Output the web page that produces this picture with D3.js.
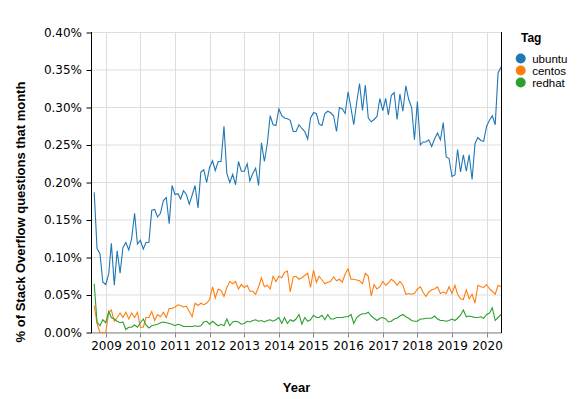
<!DOCTYPE html>
<html>
<head>
<meta charset="utf-8">
<script src="https://cdn.jsdelivr.net/npm/d3@7"></script>
<style>
  html, body { margin: 0; padding: 0; background: #fff; }
  svg { display: block; }
</style>
</head>
<body>
<svg id="chart" width="579" height="399"></svg>
<script>
// ---- data (values in percent of Stack Overflow questions that month) ----
const tags = ["ubuntu", "centos", "redhat"];
const colors = ["#1f77b4", "#ff7f0e", "#2ca02c"];
const startMonth = new Date(Date.UTC(2008, 8, 1)); // Sep 2008
const endMonth = new Date(Date.UTC(2020, 6, 1));   // exclusive -> last is Jun 2020
const yTicks = [0, 0.05, 0.10, 0.15, 0.20, 0.25, 0.30, 0.35, 0.40];

const ubuntu = [
  .187,.112,.105,.067,.064,.078,.119,.063,.109,.079,
  .113,.120,.110,.125,.159,.118,.123,.111,.120,.120,
  .163,.164,.154,.159,.176,.180,.145,.196,.184,.185,
  .178,.189,.184,.171,.183,.196,.166,.214,.217,.200,
  .220,.229,.216,.228,.228,.275,.212,.200,.211,.197,
  .228,.215,.215,.225,.202,.212,.219,.196,.253,.228,
  .252,.289,.277,.276,.298,.289,.286,.285,.283,.268,
  .268,.277,.272,.268,.258,.286,.293,.292,.278,.276,
  .292,.295,.293,.289,.268,.300,.298,.292,.321,.299,
  .277,.307,.332,.296,.330,.286,.281,.284,.288,.312,
  .296,.312,.290,.316,.320,.284,.318,.295,.329,.311,
  .300,.257,.308,.250,.254,.254,.257,.248,.258,.266,
  .257,.280,.234,.232,.208,.210,.244,.214,.237,.215,
  .237,.204,.252,.260,.256,.255,.275,.283,.289,.277,
  .346,.354
];
const centos = [
  .036,.012,.000,.000,.000,.027,.030,.015,.020,.026,
  .020,.027,.018,.026,.020,.027,.007,.007,.020,.020,
  .028,.016,.024,.021,.027,.020,.032,.032,.034,.037,
  .036,.034,.035,.028,.021,.039,.036,.039,.037,.039,
  .044,.061,.046,.058,
  .056,.048,.060,.068,.065,.068,.058,.064,.060,.063,
  .055,.055,.051,.061,.073,.061,.063,.058,.075,.068,
  .075,.073,.080,.082,.054,.074,.075,.071,.073,.076,
  .079,.060,.083,.067,.075,.070,.065,.067,.068,.074,
  .069,.071,.067,.078,.085,.071,.071,.070,.069,.065,
  .079,.075,
  .049,.064,.058,.061,.068,.063,.066,.071,.068,.063,
  .068,.063,.051,.052,.051,.052,.058,.061,.054,.048,
  .054,.057,.058,.061,.052,.054,.052,.061,.052,.063,
  .051,.045,.044,.057,.045,.051,.039,.063,.061,.060,
  .064,.058,.055,.051,.063,.061
];
const redhat = [
  .065,.014,.009,.017,.013,.028,.020,.018,.015,.013,
  .014,.004,.007,.007,.010,.007,.013,.018,.010,.006,
  .009,.010,.011,.013,.014,.013,.012,.011,.009,.011,
  .010,.008,.008,.008,.008,.009,.008,.009,.014,.015,
  .011,.015,.012,.009,
  .011,.009,.018,.009,.014,.015,.014,.011,.012,.015,
  .014,.016,.017,.015,.016,.014,.016,.017,.015,.017,
  .020,.012,.020,.012,.017,.015,.018,.024,.011,.020,
  .015,.017,.023,.020,.020,.023,.017,.024,.018,.018,
  .020,.020,.020,.021,.021,.024,.012,.020,.023,.025,
  .025,.027,
  .022,.019,.016,.019,.020,.018,.014,.015,.018,.019,
  .022,.024,.021,.019,.016,.015,.015,.018,.018,.019,
  .019,.019,.022,.018,.016,.016,.015,.016,.018,.016,
  .019,.023,.030,.021,.022,.021,.020,.020,.021,.019,
  .024,.026,.033,.016,.020,.024
];
const seriesValues = [ubuntu, centos, redhat];

// ---- layout ----
const svg = d3.select("#chart");
const plot = { left: 91.5, right: 501.5, top: 32.5, bottom: 332.5 };
const months = d3.utcMonth.range(startMonth, endMonth);

const x = d3.scaleUtc()
  .domain([months[0], months[months.length - 1]])
  .range([94.2, 501]);
const y = d3.scaleLinear().domain([0, 0.40]).range([plot.bottom, plot.top]);
const color = d3.scaleOrdinal().domain(tags).range(colors);

svg.append("rect").attr("width", 579).attr("height", 399).attr("fill", "#fff");

// grid
const yearTicks = d3.utcYear.range(new Date(Date.UTC(2009, 0, 1)), new Date(Date.UTC(2021, 0, 1)));
const grid = svg.append("g");
grid.selectAll("line.gy").data(yTicks).join("line")
  .attr("x1", plot.left).attr("x2", plot.right)
  .attr("y1", d => y(d)).attr("y2", d => y(d))
  .attr("stroke", "#ddd").attr("stroke-width", 1);
grid.selectAll("line.gx").data(yearTicks).join("line")
  .attr("x1", d => Math.round(x(d)) + 0.5).attr("x2", d => Math.round(x(d)) + 0.5)
  .attr("y1", plot.top).attr("y2", plot.bottom)
  .attr("stroke", "#ddd").attr("stroke-width", 1);

// x axis
const xAxis = d3.axisBottom(x)
  .tickValues(yearTicks)
  .tickFormat(d3.utcFormat("%Y"))
  .tickSize(5).tickPadding(4);
const gx = svg.append("g").attr("transform", `translate(0,${plot.bottom})`).call(xAxis);
gx.select(".domain").attr("d", `M${plot.left},0.5H${plot.right}`).attr("stroke", "#888");
gx.selectAll(".tick line").attr("stroke", "#888");
gx.selectAll(".tick").attr("transform", d => `translate(${Math.round(x(d)) + 0.5},0)`);
gx.selectAll(".tick text")
  .attr("font-family", "DejaVu Sans").attr("font-size", 12).attr("fill", "#000")
  .attr("dy", null).attr("y", 17.5);

// y axis
const yAxis = d3.axisLeft(y)
  .tickValues(yTicks)
  .tickFormat(d => d.toFixed(2) + "%")
  .tickSize(5).tickPadding(4);
const gy = svg.append("g").attr("transform", `translate(${plot.left},0)`).call(yAxis);
gy.select(".domain").attr("d", `M0,${plot.top - 0.5}V${plot.bottom + 0.5}`).attr("stroke", "#000");
gy.selectAll(".tick line").attr("stroke", "#000");
gy.selectAll(".tick text")
  .attr("font-family", "DejaVu Sans").attr("font-size", 12).attr("fill", "#000")
  .attr("x", -9.5);

// right border
svg.append("line")
  .attr("x1", plot.right).attr("x2", plot.right)
  .attr("y1", plot.top - 0.5).attr("y2", plot.bottom + 0.5)
  .attr("stroke", "#000");

// lines
const line = d3.line()
  .x((d, i) => x(months[i]))
  .y(d => y(d));
svg.append("g").selectAll("path").data(tags).join("path")
  .attr("d", (t, k) => line(seriesValues[k]))
  .attr("fill", "none")
  .attr("stroke", t => color(t))
  .attr("stroke-width", 1.1);

// axis titles
svg.append("text")
  .attr("x", (plot.left + plot.right) / 2).attr("y", 392)
  .attr("text-anchor", "middle")
  .attr("font-family", "Liberation Sans").attr("font-weight", "bold").attr("font-size", 13)
  .text("Year");
svg.append("text")
  .attr("transform", "translate(25,212) rotate(-90)")
  .attr("text-anchor", "middle")
  .attr("font-family", "Liberation Sans").attr("font-weight", "bold").attr("font-size", 13)
  .text("% of Stack Overflow questions that month");

// legend
const lg = svg.append("g");
lg.append("text").attr("x", 521).attr("y", 42)
  .attr("font-family", "Liberation Sans").attr("font-weight", "bold").attr("font-size", 12)
  .text("Tag");
const items = lg.selectAll("g.item").data(tags).join("g")
  .attr("transform", (d, i) => `translate(520.7,${58.5 + i * 12})`);
items.append("circle").attr("r", 5).attr("fill", d => color(d));
items.append("text").attr("x", 11.5).attr("dy", "0.35em")
  .attr("font-family", "Liberation Sans").attr("font-size", 11.5)
  .text(d => d);
</script>
</body>
</html>
